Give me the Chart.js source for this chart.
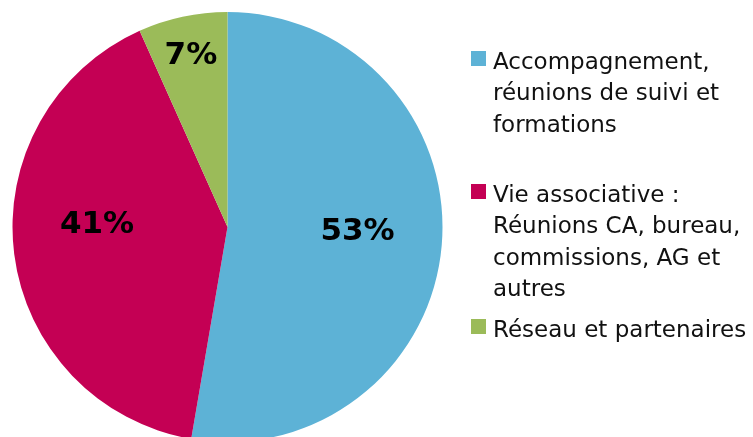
<!DOCTYPE html>
<html>
<head>
<meta charset="utf-8">
<script src="https://cdn.jsdelivr.net/npm/chart.js@4/dist/chart.umd.min.js"></script>
<style>
  html, body { margin: 0; padding: 0; background: #fff; }
  #wrap { width: 753px; height: 437px; position: relative; }
</style>
</head>
<body>
<div id="wrap"><canvas id="camembert"></canvas></div>
<script>
// catégories (une ligne de légende par élément)
var categories = [
    ['Accompagnement,', 'réunions de suivi et', 'formations'],
    ['Vie associative :', 'Réunions CA, bureau,', 'commissions, AG et', 'autres'],
    ['Réseau et partenaires']
];
// parts du temps (%)
var parts = [52.7, 40.6, 6.7];
var couleurs = ['#5DB2D6', '#C40054', '#9BBB59'];

// étiquettes de pourcentage sur les parts
var etiquettes = {
    id: 'etiquettes',
    afterDatasetsDraw: function(chart, args, opts) {
        var ctx = chart.ctx;
        var meta = chart.getDatasetMeta(0);
        var total = parts.reduce(function(a, b) { return a + b; }, 0);
        ctx.save();
        ctx.font = 'bold 31px "DejaVu Sans"';
        ctx.fillStyle = '#000';
        ctx.textAlign = 'center';
        ctx.textBaseline = 'middle';
        meta.data.forEach(function(arc, i) {
            var p = arc.getProps(['x', 'y', 'startAngle', 'endAngle', 'outerRadius'], true);
            var milieu = (p.startAngle + p.endAngle) / 2 + opts.decalage[i] * Math.PI / 180;
            var r = p.outerRadius * opts.rayon[i];
            var texte = Math.round(parts[i] / total * 100) + '%';
            ctx.fillText(texte, p.x + Math.cos(milieu) * r, p.y + Math.sin(milieu) * r);
        });
        ctx.restore();
    }
};

// légende à droite, texte sur plusieurs lignes
var legende = {
    id: 'legende',
    afterDraw: function(chart, args, opts) {
        var ctx = chart.ctx;
        ctx.save();
        ctx.font = '23px "DejaVu Sans"';
        ctx.textAlign = 'left';
        ctx.textBaseline = 'alphabetic';
        categories.forEach(function(lignes, i) {
            var base = opts.bases[i];
            ctx.fillStyle = couleurs[i];
            ctx.fillRect(opts.x, base - 18, 15, 15);
            ctx.fillStyle = '#111';
            lignes.forEach(function(l, j) {
                ctx.fillText(l, opts.x + 22, base + j * opts.interligne);
            });
        });
        ctx.restore();
    }
};

var ctx = document.getElementById('camembert').getContext('2d');
var graphique = new Chart(ctx, {
    type: 'pie',
    data: {
        labels: categories,
        datasets: [{
            data: parts,
            backgroundColor: couleurs,
            borderWidth: 0,
            radius: 215,
            clip: false
        }]
    },
    options: {
        responsive: true,
        maintainAspectRatio: false,
        animation: false,
        layout: {
            padding: { left: 12, top: 17, right: 310, bottom: 0 }
        },
        plugins: {
            legend: { display: false },
            tooltip: { enabled: false },
            etiquettes: { rayon: [0.605, 0.607, 0.814], decalage: [-2.8, 8.1, 0] },
            legende: { x: 471, bases: [69, 202, 337], interligne: 31.3 }
        }
    },
    plugins: [etiquettes, legende]
});
</script>
</body>
</html>
